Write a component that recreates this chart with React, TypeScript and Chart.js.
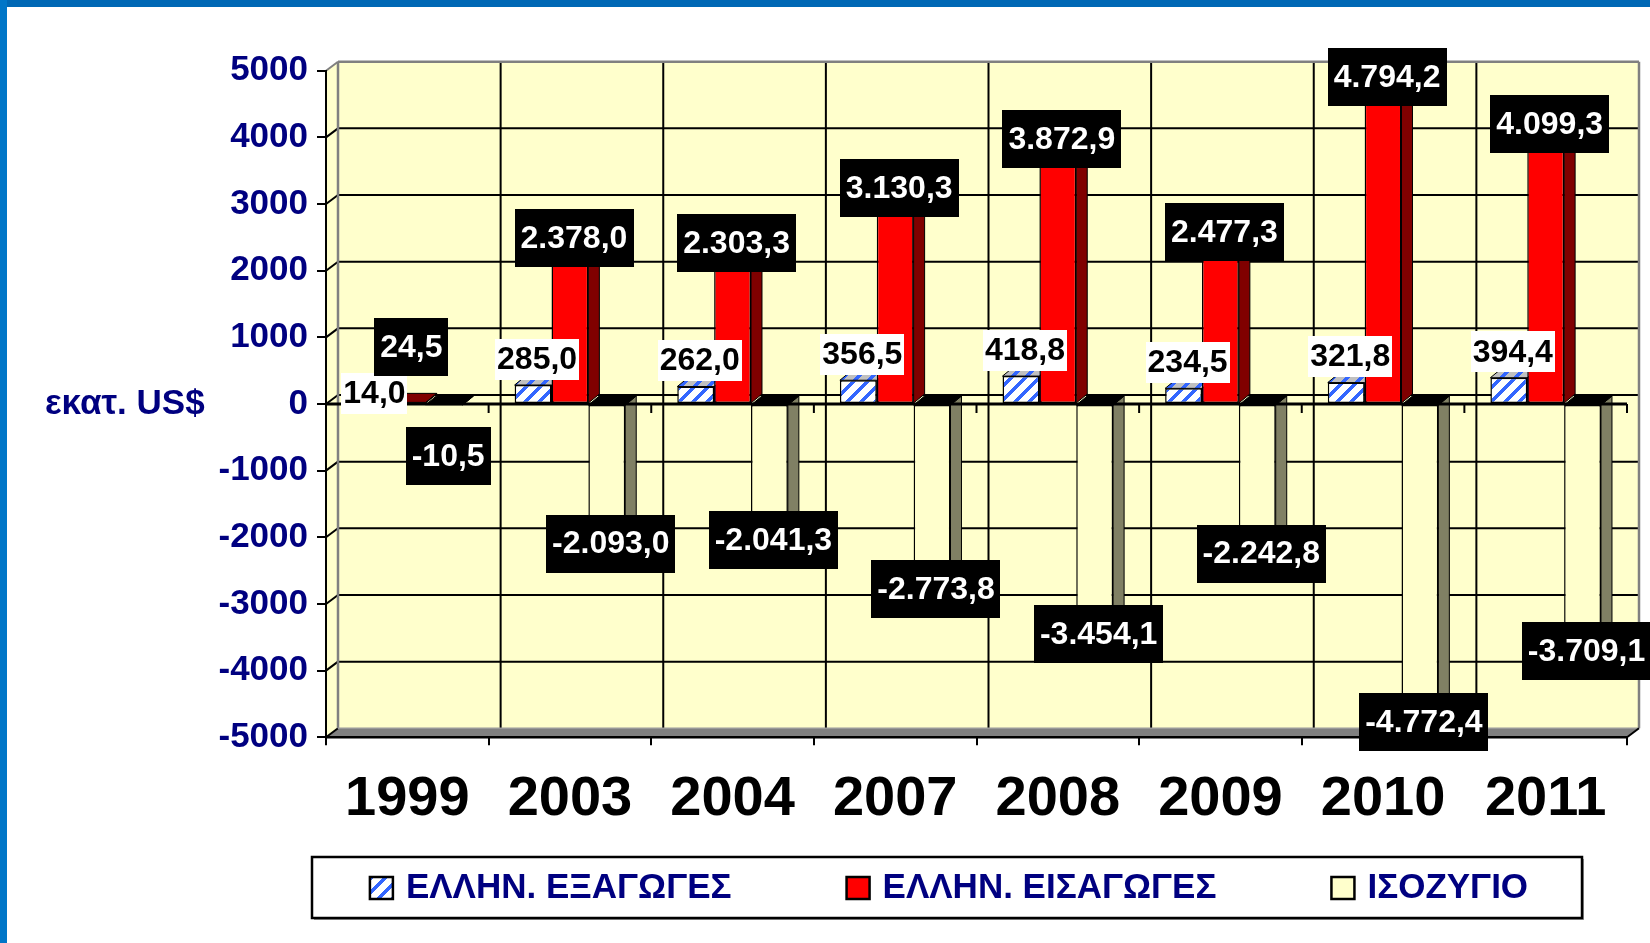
import { useEffect, useRef } from 'react';
import { Chart, registerables } from 'chart.js';

Chart.register(...registerables);

// ---------------- DATA ----------------
const CATEGORIES = ['1999', '2003', '2004', '2007', '2008', '2009', '2010', '2011'];
const EXPORTS = [14.0, 285.0, 262.0, 356.5, 418.8, 234.5, 321.8, 394.4];
const IMPORTS = [24.5, 2378.0, 2303.3, 3130.3, 3872.9, 2477.3, 4794.2, 4099.3];
const BALANCE = [-10.5, -2093.0, -2041.3, -2773.8, -3454.1, -2242.8, -4772.4, -3709.1];
const SERIES_LABELS = ['ΕΛΛΗΝ. ΕΞΑΓΩΓΕΣ', 'ΕΛΛΗΝ. ΕΙΣΑΓΩΓΕΣ', 'ΙΣΟΖΥΓΙΟ'];
const Y_MIN = -5000;
const Y_MAX = 5000;
const Y_STEP = 1000;
const Y_UNIT = 'εκατ. US$';

// ---------------- STYLE ----------------
const W = 1650;
const H = 943;
const FONT = '"Liberation Sans", Arial, Helvetica, sans-serif';
const NAVY = '#000080';
const WALL = '#ffffcc';
const WALL_DX = 12;
const WALL_DY = 9;
const BAR_DX = 11;
const BAR_DY = 9;
const LEGEND_BOX = { x: 312, y: 857, w: 1270, h: 61 };

function fmt(v: number): string {
  const neg = v < 0;
  const parts = Math.abs(v).toFixed(1).split('.');
  const intPart = parts[0].replace(/\B(?=(\d{3})+(?!\d))/g, '.');
  return (neg ? '-' : '') + intPart + ',' + parts[1];
}

function makePattern(bg: string, fg: string): CanvasPattern | string {
  const size = 14;
  const c = document.createElement('canvas');
  c.width = size;
  c.height = size;
  const ctx = c.getContext('2d');
  if (!ctx) return bg;
  ctx.fillStyle = bg;
  ctx.fillRect(0, 0, size, size);
  ctx.fillStyle = fg;
  for (let y = 0; y < size; y++) {
    for (let x = 0; x < size; x++) {
      if ((x + y) % size < 5) ctx.fillRect(x, y, 1, 1);
    }
  }
  return ctx.createPattern(c, 'repeat') || bg;
}

function poly(ctx: CanvasRenderingContext2D, pts: number[][], fill?: any, stroke?: string, lw = 1) {
  ctx.beginPath();
  ctx.moveTo(pts[0][0], pts[0][1]);
  for (let i = 1; i < pts.length; i++) ctx.lineTo(pts[i][0], pts[i][1]);
  ctx.closePath();
  if (fill) {
    ctx.fillStyle = fill;
    ctx.fill();
  }
  if (stroke) {
    ctx.strokeStyle = stroke;
    ctx.lineWidth = lw;
    ctx.stroke();
  }
}

function line(ctx: CanvasRenderingContext2D, x1: number, y1: number, x2: number, y2: number, color: string, lw: number) {
  ctx.beginPath();
  ctx.moveTo(x1, y1);
  ctx.lineTo(x2, y2);
  ctx.strokeStyle = color;
  ctx.lineWidth = lw;
  ctx.stroke();
}

export default function App() {
  const ref = useRef<HTMLCanvasElement>(null);

  useEffect(() => {
    const canvas = ref.current;
    if (!canvas) return;
    const exportsFront = makePattern('#ffffff', '#3366ff');
    const exportsTop = makePattern('#c0c0c0', '#3366ff');
    const SIDE_COLORS = ['#1a3399', '#800000', '#808064'];
    const TOP_COLORS: any[] = [exportsTop, '#800000', '#000000'];
    const LEGEND_FILLS: any[] = [exportsFront, '#ff0000', WALL];

    const backdrop = {
      id: 'backdrop',
      beforeDraw(chart: any) {
        const ctx: CanvasRenderingContext2D = chart.ctx;
        const ca = chart.chartArea;
        const ys = chart.scales.y;
        const xs = chart.scales.x;
        const L = ca.left, R = ca.right, T = ca.top, B = ca.bottom;
        ctx.save();
        ctx.fillStyle = '#ffffff';
        ctx.fillRect(0, 0, W, H);
        ctx.fillStyle = '#0068b5';
        ctx.fillRect(0, 0, W, 7);
        ctx.fillStyle = '#0076c8';
        ctx.fillRect(0, 0, 7, H);

        // back wall
        ctx.fillStyle = WALL;
        ctx.fillRect(L + WALL_DX, T - WALL_DY, R - L, B - T);
        // side wall
        poly(ctx, [[L, T], [L + WALL_DX, T - WALL_DY], [L + WALL_DX, B - WALL_DY], [L, B]], WALL);
        // floor
        poly(ctx, [[L, B], [R, B], [R + WALL_DX, B - WALL_DY], [L + WALL_DX, B - WALL_DY]], '#808080');

        // horizontal gridlines
        ys.ticks.forEach((t: any) => {
          const yy = ys.getPixelForValue(t.value);
          if (t.value > Y_MIN && t.value < Y_MAX) {
            line(ctx, L + WALL_DX, yy - WALL_DY, R + WALL_DX, yy - WALL_DY, '#000', 2);
          }
          if (t.value < Y_MAX) line(ctx, L, yy, L + WALL_DX, yy - WALL_DY, '#000', 2);
        });
        // vertical gridlines at category boundaries
        for (let i = 1; i < CATEGORIES.length; i++) {
          const bx = xs.getPixelForValue(i - 0.5) + WALL_DX;
          line(ctx, bx, T - WALL_DY, bx, B - WALL_DY, '#000', 2);
        }
        // wall edges
        line(ctx, L + WALL_DX, T - WALL_DY, R + WALL_DX, T - WALL_DY, '#808080', 2.5);
        line(ctx, R + WALL_DX, T - WALL_DY, R + WALL_DX, B - WALL_DY, '#808080', 2.5);
        line(ctx, L + WALL_DX, T - WALL_DY, L + WALL_DX, B - WALL_DY, '#808080', 2.5);
        line(ctx, L, T, L + WALL_DX, T - WALL_DY, '#808080', 2);
        line(ctx, L + WALL_DX, B - WALL_DY, R + WALL_DX, B - WALL_DY, '#999999', 1.5);
        // floor front edge
        line(ctx, L, B, R, B, '#000', 2.5);
        line(ctx, R, B, R + WALL_DX, B - WALL_DY, '#000', 2);
        ctx.restore();
      },
      beforeDatasetsDraw(chart: any) {
        const ctx: CanvasRenderingContext2D = chart.ctx;
        ctx.save();
        chart.data.datasets.forEach((_ds: any, di: number) => {
          const meta = chart.getDatasetMeta(di);
          meta.data.forEach((el: any) => {
            const p = el.getProps(['x', 'y', 'base', 'width'], true);
            const l = p.x - p.width / 2;
            const r = p.x + p.width / 2;
            const vy = p.y;
            const by = p.base;
            if (vy <= by) {
              poly(ctx, [[r, vy], [r + BAR_DX, vy - BAR_DY], [r + BAR_DX, by - BAR_DY], [r, by]], SIDE_COLORS[di], '#000', 1);
              poly(ctx, [[l, vy], [r, vy], [r + BAR_DX, vy - BAR_DY], [l + BAR_DX, vy - BAR_DY]], TOP_COLORS[di], '#000', 1);
            } else {
              poly(ctx, [[r, by], [r + BAR_DX, by - BAR_DY], [r + BAR_DX, vy - BAR_DY], [r, vy]], SIDE_COLORS[di], '#000', 1);
              poly(ctx, [[l, by], [r, by], [r + BAR_DX, by - BAR_DY], [l + BAR_DX, by - BAR_DY]], TOP_COLORS[di], '#000', 1);
            }
          });
        });
        ctx.restore();
      },
      afterDatasetsDraw(chart: any) {
        const ctx: CanvasRenderingContext2D = chart.ctx;
        const ca = chart.chartArea;
        const ys = chart.scales.y;
        const xs = chart.scales.x;
        const y0 = ys.getPixelForValue(0);
        ctx.save();
        // category axis at zero
        line(ctx, ca.left, y0, ca.right, y0, '#000', 3);
        for (let i = 0; i <= CATEGORIES.length; i++) {
          const bx = xs.getPixelForValue(i - 0.5);
          line(ctx, bx, y0, bx, y0 + 9, '#000', 2);
        }

        // data labels
        ctx.font = 'bold 32px ' + FONT;
        ctx.textBaseline = 'middle';
        ctx.textAlign = 'center';
        type Box = { cx: number; cy: number; w: number; h: number; text: string; bg: string; fg: string };
        const boxes: Box[][] = [[], [], []];
        chart.data.datasets.forEach((ds: any, di: number) => {
          const meta = chart.getDatasetMeta(di);
          meta.data.forEach((el: any, i: number) => {
            const p = el.getProps(['x', 'y'], true);
            const text = fmt(ds.data[i]);
            const tw = ctx.measureText(text).width;
            let b: Box;
            if (di === 0) {
              b = { cx: p.x + 4, cy: p.y - 26, w: tw + 4, h: 41, text, bg: '#ffffff', fg: '#000000' };
            } else if (di === 1) {
              b = { cx: p.x + 4, cy: Math.min(p.y - 7, y0 - 57), w: tw + 12, h: 58, text, bg: '#000000', fg: '#ffffff' };
            } else {
              b = { cx: p.x + 4, cy: Math.max(p.y, y0 + 52), w: tw + 12, h: 58, text, bg: '#000000', fg: '#ffffff' };
            }
            boxes[di].push(b);
          });
        });
        // avoid overlap between export and import labels
        boxes[0].forEach((b, i) => {
          const o = boxes[1][i];
          const hOverlap = Math.abs(b.cx - o.cx) < (b.w + o.w) / 2;
          const vOverlap = Math.abs(b.cy - o.cy) < (b.h + o.h) / 2;
          if (hOverlap && vOverlap) b.cy = o.cy + o.h / 2 - 3 + b.h / 2;
        });
        boxes.forEach((list) => {
          list.forEach((b) => {
            ctx.fillStyle = b.bg;
            ctx.fillRect(Math.round(b.cx - b.w / 2), Math.round(b.cy - b.h / 2), Math.round(b.w), b.h);
            ctx.fillStyle = b.fg;
            ctx.fillText(b.text, b.cx, b.cy + 1);
          });
        });

        // y unit title
        ctx.font = 'bold 35px ' + FONT;
        ctx.textAlign = 'left';
        ctx.fillStyle = NAVY;
        ctx.fillText(Y_UNIT, 45, y0);

        // legend
        const LB = LEGEND_BOX;
        ctx.fillStyle = '#9a9a9a';
        ctx.fillRect(LB.x + 2, LB.y + 2, LB.w, LB.h);
        ctx.fillStyle = '#ffffff';
        ctx.fillRect(LB.x, LB.y, LB.w, LB.h);
        ctx.strokeStyle = '#000';
        ctx.lineWidth = 2.5;
        ctx.strokeRect(LB.x, LB.y, LB.w, LB.h);
        ctx.font = 'bold 35px ' + FONT;
        const mW = 23, mH = 22, gap = 13, itemGap = 115;
        const labels: string[] = chart.data.datasets.map((d: any) => d.label);
        const widths = labels.map((t) => ctx.measureText(t).width);
        const total = widths.reduce((a, w) => a + mW + gap + w, 0) + itemGap * (labels.length - 1);
        let cx = LB.x + (LB.w - total) / 2 + 2;
        const cy = LB.y + LB.h / 2 + 0.5;
        labels.forEach((t, i) => {
          ctx.fillStyle = LEGEND_FILLS[i];
          ctx.fillRect(cx, cy - mH / 2, mW, mH);
          ctx.strokeStyle = '#000';
          ctx.lineWidth = 2.5;
          ctx.strokeRect(cx, cy - mH / 2, mW, mH);
          ctx.fillStyle = NAVY;
          ctx.textAlign = 'left';
          ctx.fillText(t, cx + mW + gap, cy);
          cx += mW + gap + widths[i] + itemGap;
        });
        ctx.restore();
      },
    };

    const chart = new Chart(canvas, {
      type: 'bar',
      data: {
        labels: CATEGORIES,
        datasets: [
          { label: SERIES_LABELS[0], data: EXPORTS, backgroundColor: exportsFront as any, borderColor: '#000', borderWidth: 1.5, borderSkipped: false },
          { label: SERIES_LABELS[1], data: IMPORTS, backgroundColor: '#ff0000', borderColor: '#000', borderWidth: 1.5, borderSkipped: false },
          { label: SERIES_LABELS[2], data: BALANCE, backgroundColor: WALL, borderColor: '#000', borderWidth: 1.5, borderSkipped: false },
        ],
      },
      options: {
        responsive: false,
        animation: false,
        categoryPercentage: 0.68,
        barPercentage: 1.0,
        layout: { padding: { left: 0, right: 23, top: 70.7, bottom: 0 }, autoPadding: false },
        plugins: { legend: { display: false }, tooltip: { enabled: false } },
        scales: {
          x: {
            grid: { display: true, drawOnChartArea: false, drawTicks: true, tickLength: 8, color: '#000', lineWidth: 2, offset: true },
            border: { display: false },
            ticks: { color: '#000', font: { family: FONT, size: 56, weight: 'bold' }, padding: 21, maxRotation: 0, autoSkip: false },
            afterFit: (s: any) => { s.height = H - 737.3; },
          },
          y: {
            min: Y_MIN,
            max: Y_MAX,
            ticks: {
              stepSize: Y_STEP,
              color: NAVY,
              font: { family: FONT, size: 35, weight: 'bold' },
              padding: 9,
              callback: (v: any) => String(v),
            },
            grid: { drawOnChartArea: false, tickLength: 9, color: '#000', lineWidth: 2 },
            border: { display: true, color: '#000', width: 2 },
            afterFit: (s: any) => { s.width = 326; },
          },
        },
      } as any,
      plugins: [backdrop],
    });
    return () => chart.destroy();
  }, []);

  return (
    <div style={{ position: 'fixed', left: 0, top: 0, width: W, height: H, background: '#fff' }}>
      <canvas ref={ref} width={W} height={H} style={{ display: 'block', width: W, height: H }} />
    </div>
  );
}
